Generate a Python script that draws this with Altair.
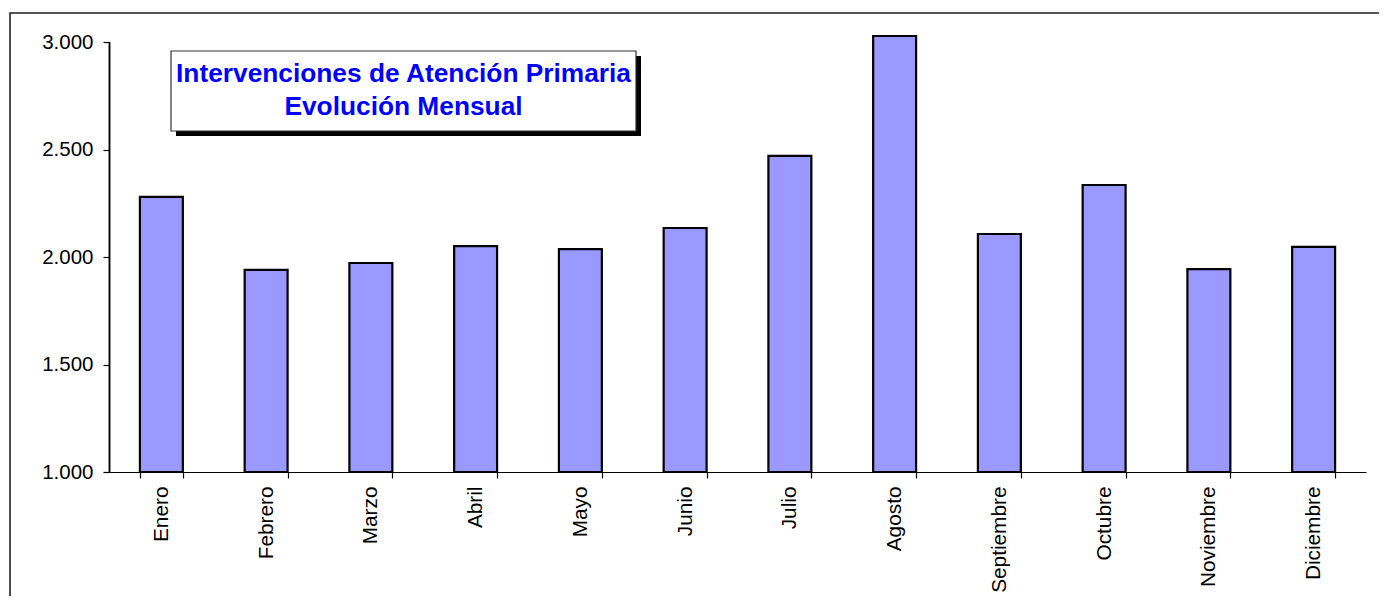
import altair as alt
import pandas as pd

months = ["Enero", "Febrero", "Marzo", "Abril", "Mayo", "Junio", "Julio",
          "Agosto", "Septiembre", "Octubre", "Noviembre", "Diciembre"]
values = [2280, 1940, 1972, 2051, 2037, 2135, 2470, 3028, 2107, 2335, 1944, 2047]
y_ticks = [1000, 1500, 2000, 2500, 3000]
title_lines = ["Intervenciones de Atención Primaria", "Evolución Mensual"]

df = pd.DataFrame({"mes": months, "valor": values})
one = pd.DataFrame({"k": [0]})

W, H = 1257, 430
FONT = "Liberation Sans"

bars = alt.Chart(df).mark_bar(
    fill="#9999FF", stroke="black", strokeWidth=2.2
).encode(
    x=alt.X("mes:N", sort=months, title=None,
            scale=alt.Scale(paddingInner=0.59, paddingOuter=0.295),
            axis=alt.Axis(labelAngle=-90, labelFont=FONT, labelFontSize=20.8,
                          labelColor="black", labelPadding=8, tickBand="extent",
                          tickSize=6, tickColor="black", domain=True, domainColor="black",
                          domainWidth=1.2, tickWidth=1.2, labelLimit=300, zindex=1)),
    y=alt.Y("valor:Q", title=None,
            scale=alt.Scale(domain=[1000, 3000], nice=False, zero=False),
            axis=alt.Axis(values=y_ticks, grid=False, labelFont=FONT,
                          labelFontSize=20.5, labelColor="black", labelPadding=10,
                          tickSize=6, tickColor="black", domain=True, domainColor="black",
                          domainWidth=1.5, tickWidth=1.2, zindex=1,
                          labelExpr="replace(format(datum.value, ',.0f'), ',', '.')")),
    y2=alt.datum(1000),
)

yline = alt.Chart(one).mark_rule(color="black", strokeWidth=1.5, clip=False).encode(
    x=alt.value(0.5), y=alt.value(0), y2=alt.value(H))

frame = alt.Chart(one).mark_rect(
    filled=False, stroke="#222222", strokeWidth=1.6, clip=False
).encode(x=alt.value(-99), x2=alt.value(1400), y=alt.value(-29), y2=alt.value(700))

shadow = alt.Chart(one).mark_rect(fill="black", clip=False).encode(
    x=alt.value(67), x2=alt.value(532), y=alt.value(14), y2=alt.value(94))
box = alt.Chart(one).mark_rect(fill="white", stroke="#333333", strokeWidth=1.2).encode(
    x=alt.value(62), x2=alt.value(527), y=alt.value(9), y2=alt.value(89))
t1 = alt.Chart(one).mark_text(
    text=title_lines[0], font=FONT, fontSize=26.3, fontWeight="bold",
    color="#0000FF", align="center", baseline="alphabetic"
).encode(x=alt.value(294.5), y=alt.value(39.7))
t2 = alt.Chart(one).mark_text(
    text=title_lines[1], font=FONT, fontSize=26.3, fontWeight="bold",
    color="#0000FF", align="center", baseline="alphabetic"
).encode(x=alt.value(294.5), y=alt.value(73))

chart = alt.layer(frame, bars, yline, shadow, box, t1, t2).properties(
    width=W, height=H,
    autosize=alt.AutoSizeParams(type="none"),
    padding={"left": 101, "top": 34, "right": 13, "bottom": 124},
    background="white",
).configure_view(stroke=None)

chart.save("out.html", embed_options={"renderer": "svg", "actions": False})
